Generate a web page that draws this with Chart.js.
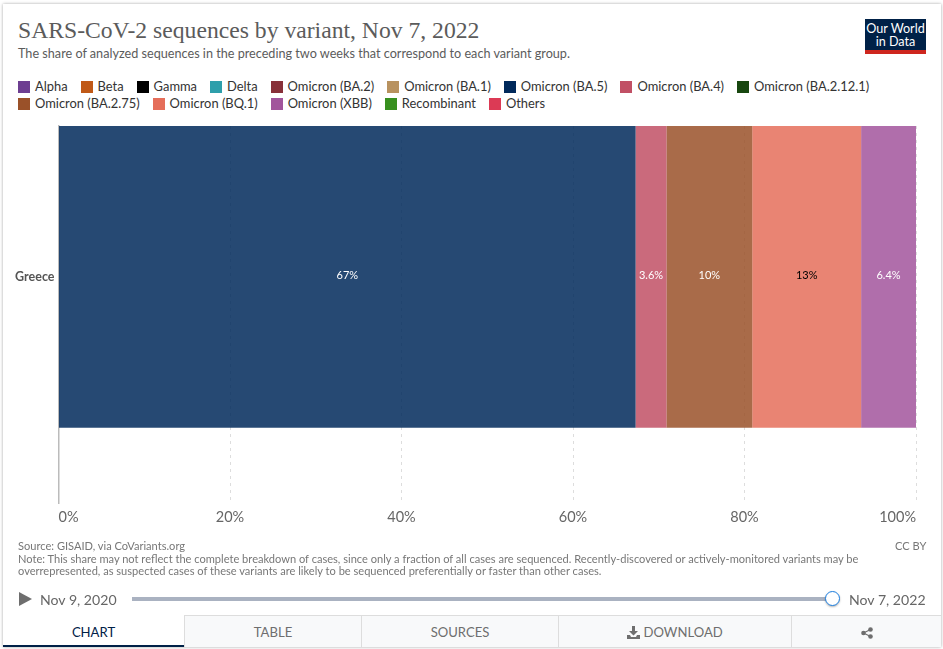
<!DOCTYPE html>
<html>
<head>
<meta charset="utf-8">
<script src="https://cdn.jsdelivr.net/npm/chart.js@4"></script>
<style>
  html, body { margin: 0; padding: 0; background: #fff; width: 943px; height: 649px; overflow: hidden; font-family: Lato, sans-serif; }
  .abs { position: absolute; white-space: nowrap; }
  #card { position: absolute; left: 3px; top: 4px; width: 938px; height: 643px; background: #fff; box-shadow: 0 0 3px rgba(0,0,0,.35); }
  #chart { position: absolute; left: 0; top: 0; }
  #title { left: 18px; top: 17px; font: 23.65px "Liberation Serif", serif; color: #5b5b5b; }
  #subtitle { left: 18px; top: 46px; font-size: 12.65px; color: #5b5b5b; }
  #logo { left: 865px; top: 19px; width: 61px; height: 28px; padding-top: 3px; background: #002147; border-bottom: 4px solid #ce261e; color: #fff; font-size: 12.6px; line-height: 13px; text-align: center; white-space: normal; }
  #legend { position: absolute; left: 18px; top: 78px; width: 870px; display: flex; flex-wrap: wrap; column-gap: 13px; font-size: 12.9px; line-height: 17px; color: #333; }
  #legend span.item { display: flex; align-items: center; white-space: nowrap; }
  #legend i { display: block; width: 12px; height: 12px; margin-right: 5px; }
  #footer { left: 18px; top: 540px; font-size: 11.09px; line-height: 12.7px; color: #777; }
  #ccby { left: 895px; top: 540px; font-size: 11.09px; line-height: 12.7px; color: #777; }
  .date { top: 591px; font-size: 14.1px; color: #666; }
  #play { left: 19px; top: 592px; width: 0; height: 0; border-left: 13px solid #6e6e6e; border-top: 7px solid transparent; border-bottom: 7px solid transparent; }
  #track { left: 132px; top: 597px; width: 701px; height: 4px; background: #aab2c1; }
  #thumb { left: 825px; top: 591px; width: 13px; height: 13px; background: #fff; border: 1.5px solid #1d7fe0; border-radius: 50%; box-shadow: 0 1px 2px rgba(0,0,0,.3); }
  .tab { position: absolute; top: 615px; height: 32px; line-height: 32px; text-align: center; font-size: 13.1px; color: #6e6e6e; background: #f8f9fa; border-top: 1px solid #ddd; border-left: 1px solid #ddd; box-sizing: border-box; }
  .tab svg { vertical-align: -2px; }
  #tabChart { background: #fff; color: #002147; border-top: 0; border-left: 0; border-bottom: 2px solid #002147; line-height: 34px; }
</style>
</head>
<body>
<div id="card"></div>
<div class="abs" id="title">SARS-CoV-2 sequences by variant, Nov 7, 2022</div>
<div class="abs" id="subtitle">The share of analyzed sequences in the preceding two weeks that correspond to each variant group.</div>
<div class="abs" id="logo">Our World<br>in Data</div>
<div id="legend"></div>
<canvas id="chart" width="943" height="649"></canvas>
<div class="abs" id="footer">Source: GISAID, via CoVariants.org<br>Note: This share may not reflect the complete breakdown of cases, since only a fraction of all cases are sequenced. Recently-discovered or actively-monitored variants may be<br>overrepresented, as suspected cases of these variants are likely to be sequenced preferentially or faster than other cases.</div>
<div class="abs" id="ccby">CC BY</div>
<div class="abs" id="play"></div>
<div class="abs date" style="left:40px">Nov 9, 2020</div>
<div class="abs" id="track"></div>
<div class="abs" id="thumb"></div>
<div class="abs date" style="left:849px">Nov 7, 2022</div>
<div class="tab" id="tabChart" style="left:3px;width:181px">CHART</div>
<div class="tab" style="left:184px;width:177px">TABLE</div>
<div class="tab" style="left:361px;width:197px">SOURCES</div>
<div class="tab" style="left:558px;width:233px"><svg width="13" height="13" viewBox="0 0 13 13"><path d="M5 0h3v5h3L6.500 9.500 2 5h3zM0 9h3l1 2h5l1-2h3v4H0z" fill="#6e6e6e"/></svg> DOWNLOAD</div>
<div class="tab" style="left:791px;width:150px"><svg width="12" height="12" viewBox="0 0 12 12"><circle cx="2.500" cy="6" r="2.300" fill="#6e6e6e"/><circle cx="9.500" cy="2.500" r="2.300" fill="#6e6e6e"/><circle cx="9.500" cy="9.500" r="2.300" fill="#6e6e6e"/><path d="M2.500 6L9.500 2.500M2.500 6L9.500 9.500" stroke="#6e6e6e" stroke-width="1.200"/></svg></div>

<script>
// Data
const categories = ['Greece'];
const variants = ['Alpha', 'Beta', 'Gamma', 'Delta', 'Omicron (BA.2)', 'Omicron (BA.1)', 'Omicron (BA.5)', 'Omicron (BA.4)', 'Omicron (BA.2.12.1)', 'Omicron (BA.2.75)', 'Omicron (BQ.1)', 'Omicron (XBB)', 'Recombinant', 'Others'];
const shares = [0, 0, 0, 0, 0, 0, 67.3, 3.6, 0, 10.0, 12.7, 6.4, 0, 0];
const shareLabels = ['', '', '', '', '', '', '67%', '3.6%', '', '10%', '13%', '6.4%', '', ''];
const labelColors = ['', '', '', '', '', '', '#fff', '#fff', '', '#fff', '#000', '#fff', '', ''];
const colors = ['#6D3E91', '#C05917', '#000000', '#2E9FAB', '#883039', '#B8925F', '#00295B', '#C15065', '#18470F', '#9A5129', '#E56E5A', '#A2559C', '#38901F', '#DC3A55'];
const xTicks = [0, 20, 40, 60, 80, 100];

// Legend
const legend = document.getElementById('legend');
variants.forEach((name, i) => {
  const item = document.createElement('span');
  item.className = 'item';
  const box = document.createElement('i');
  box.style.background = colors[i];
  item.appendChild(box);
  item.appendChild(document.createTextNode(name));
  legend.appendChild(item);
});

// Percent labels in the middle of each bar segment
const segmentLabels = {
  id: 'segmentLabels',
  afterDatasetsDraw(chart) {
    const ctx = chart.ctx;
    ctx.save();
    ctx.font = '11px Lato';
    ctx.textAlign = 'center';
    ctx.textBaseline = 'middle';
    chart.data.datasets.forEach((ds, i) => {
      if (!shareLabels[i]) return;
      const bar = chart.getDatasetMeta(i).data[0];
      const p = bar.getProps(['x', 'y', 'base'], true);
      ctx.fillStyle = labelColors[i];
      ctx.fillText(shareLabels[i], (p.x + p.base) / 2, p.y - 1);
    });
    ctx.restore();
  }
};

new Chart(document.getElementById('chart'), {
  type: 'bar',
  data: {
    datasets: variants.map((name, i) => ({
      label: name,
      data: [{ x: shares[i], y: 0 }],
      backgroundColor: colors[i] + 'D9',
      borderWidth: 0,
      inflateAmount: 0, // keeps the empty series from showing as slivers
      barThickness: 302
    }))
  },
  options: {
    indexAxis: 'y',
    responsive: false,
    animation: false,
    devicePixelRatio: 1,
    layout: { padding: { left: 0, right: 27, top: 126, bottom: 116 } },
    plugins: { legend: { display: false }, tooltip: { enabled: false } },
    scales: {
      x: {
        type: 'linear',
        stacked: true,
        min: 0,
        max: 100,
        afterBuildTicks(scale) { scale.ticks = xTicks.map(v => ({ value: v })); },
        afterFit(scale) { scale.height = 30; },
        grid: { color: '#dddddd', drawTicks: false, lineWidth: 1 },
        border: { display: false, dash: [3, 4] },
        ticks: {
          align: 'inner',
          maxRotation: 0,
          autoSkip: false,
          padding: 6,
          color: '#666',
          font: { family: 'Lato', size: 14.5 },
          callback: v => v + '%'
        }
      },
      y: {
        type: 'linear',
        stacked: true,
        bounds: 'data',
        offset: false,
        // one category row, placed above the centre like the original plot
        min: -0.6,
        max: 0.4,
        afterBuildTicks(scale) { scale.ticks = categories.map((c, i) => ({ value: i })); },
        afterFit(scale) { scale.width = 58.5; },
        grid: { display: false, drawTicks: false },
        border: { display: true, color: '#bbbbbb', width: 1.5 },
        ticks: {
          padding: 4,
          autoSkip: false,
          color: '#555',
          font: { family: 'Lato', size: 12.5, weight: 'bold' },
          callback: (v, i) => categories[i]
        }
      }
    }
  },
  plugins: [segmentLabels]
});
</script>
</body>
</html>
